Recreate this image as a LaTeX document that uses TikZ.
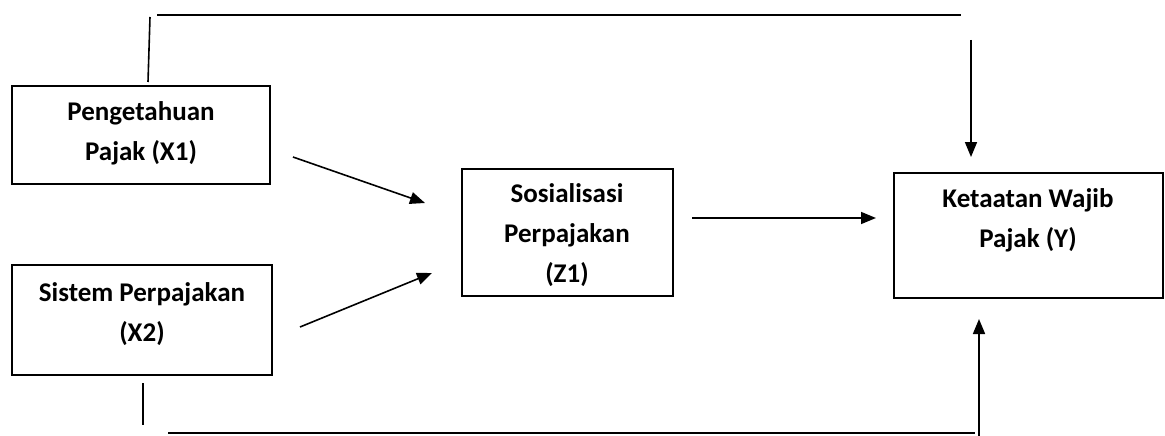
\documentclass[tikz,border=0pt]{standalone}
\usepackage{fontspec}
\setmainfont{Carlito}
\usetikzlibrary{arrows.meta}
\begin{document}
\begin{tikzpicture}[x=1pt,y=-1pt,
  box/.style={draw,line width=1.8pt,rectangle,inner sep=0pt},
  lbl/.style={font=\bfseries\fontsize{27}{40}\selectfont,align=center,inner sep=0pt},
  conn/.style={line width=1.6pt},
  arr/.style={conn,-{Triangle[length=15pt,width=12pt]}}]
\useasboundingbox (0,0) rectangle (1165,436);
% boxes
\node[box,minimum width=258pt,minimum height=98pt] (x1) at (141,135) {};
\node[box,minimum width=260pt,minimum height=110pt] (x2) at (142,320) {};
\node[box,minimum width=211pt,minimum height=127pt] (z1) at (567.5,232.5) {};
\node[box,minimum width=269pt,minimum height=125pt] (y) at (1028.5,235.5) {};
% labels
\node[lbl] (tx1) at (141,133) {Pengetahuan\\Pajak (X1)};
\node[lbl] (tx2) at (142,314) {Sistem Perpajakan\\(X2)};
\node[lbl] (tz1) at (567,235) {Sosialisasi\\Perpajakan\\(Z1)};
\node[lbl] (ty) at (1028,220) {Ketaatan Wajib\\Pajak (Y)};
% coordinates
\coordinate (a1) at (293,157);
\coordinate (a2) at (425,203);
\coordinate (b1) at (300,327);
\coordinate (b2) at (432,273);
\coordinate (c1) at (692,218);
\coordinate (c2) at (876,218);
\coordinate (t1) at (148,82);
\coordinate (t2) at (150,17);
\coordinate (t3) at (157,15);
\coordinate (t4) at (961,15);
\coordinate (t5) at (971,40);
\coordinate (t6) at (971,157);
\coordinate (u1) at (143,383);
\coordinate (u2) at (143,425);
\coordinate (u3) at (168,433);
\coordinate (u4) at (975,433);
\coordinate (u5) at (979,436);
\coordinate (u6) at (979,319);
% connectors
\draw[arr] (a1) -- (a2);
\draw[arr] (b1) -- (b2);
\draw[arr] (c1) -- (c2);
\draw[conn] (t1) -- (t2);
\draw[conn] (t3) -- (t4);
\draw[arr] (t5) -- (t6);
\draw[conn] (u1) -- (u2);
\draw[conn] (u3) -- (u4);
\draw[arr] (u5) -- (u6);
\end{tikzpicture}
\end{document}
